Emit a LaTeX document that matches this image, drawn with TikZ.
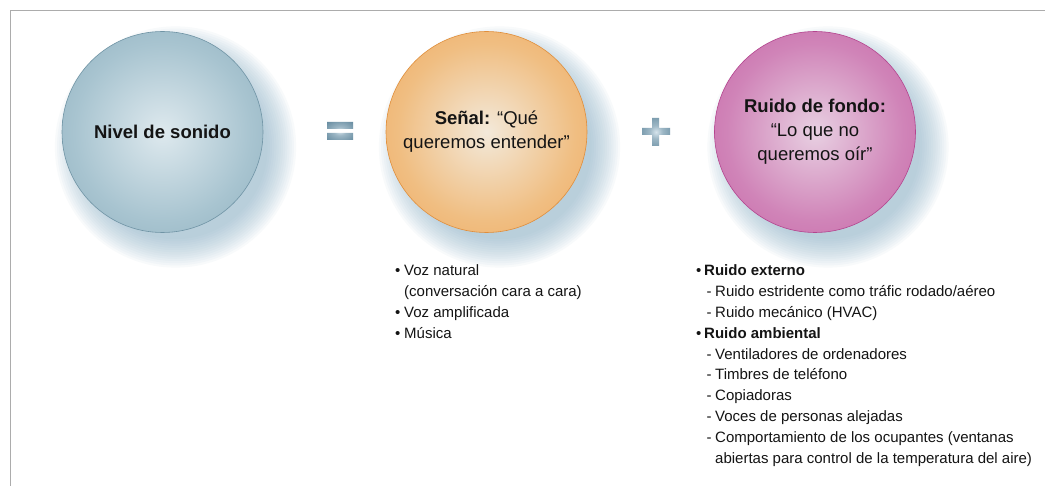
\documentclass[tikz,border=0pt]{standalone}
\usepackage{fontspec}
\setmainfont{Liberation Sans}
\definecolor{frameC}{RGB}{172,172,172}
\definecolor{glowC}{RGB}{140,178,200}
\definecolor{bIn}{RGB}{222,233,238}
\definecolor{bMid}{RGB}{168,196,208}
\definecolor{bOut}{RGB}{118,156,174}
\definecolor{oIn}{RGB}{243,233,218}
\definecolor{oMid}{RGB}{240,190,130}
\definecolor{oOut}{RGB}{236,150,62}
\definecolor{mIn}{RGB}{232,208,226}
\definecolor{mMid}{RGB}{208,132,184}
\definecolor{mOut}{RGB}{190,72,150}
\definecolor{sIn}{RGB}{214,228,236}
\definecolor{sOut}{RGB}{70,114,138}
\definecolor{txt}{RGB}{20,20,20}
\pgfdeclareradialshading{ballblue}{\pgfpointorigin}{color(0bp)=(bIn); color(22bp)=(bMid); color(50bp)=(bOut)}
\pgfdeclareradialshading{ballorange}{\pgfpointorigin}{color(0bp)=(oIn); color(22bp)=(oMid); color(50bp)=(oOut)}
\pgfdeclareradialshading{ballmagenta}{\pgfpointorigin}{color(0bp)=(mIn); color(22bp)=(mMid); color(50bp)=(mOut)}
\pgfdeclareradialshading{signshade}{\pgfpointorigin}{color(0bp)=(sIn); color(12bp)=(sIn!60!sOut); color(50bp)=(sOut)}
\tikzset{
  ball/.style={circle, minimum size=201pt, inner sep=0pt, align=center, text=txt,
    font=\fontsize{18.5}{24}\selectfont},
  item/.style={anchor=base west, inner sep=0pt, text=txt, font=\fontsize{15}{20}\selectfont},
  glowlayer/.style={fill=glowC, opacity=0.06}
}
\begin{document}
\begin{tikzpicture}[x=1pt,y=-1pt]
\useasboundingbox (0,0) rectangle (1045,486);
\fill[white] (0,0) rectangle (1045,486);
% frame
\draw[frameC, line width=1.5pt] (10.5,486) -- (10.5,10.5) -- (1045,10.5);
% glows
\foreach \cx/\cy in {162.5/132, 486.5/132, 815/132}{
  \foreach \k in {0,...,13}{
    \fill[glowlayer] (\cx+13,\cy+15) circle[radius={92pt+\k*2.2pt}];
  }
}
% circles
\node[ball, shading=ballblue, draw=bOut!95!black, line width=0.6pt] (c1) at (162.5,132) {\bfseries Nivel de sonido};
\node[ball, shading=ballorange, draw=oOut!95!black, line width=0.6pt] (c2) at (486.5,132) {{\bfseries Señal:} “Qué\\queremos entender”};
\node[ball, shading=ballmagenta, draw=mOut!95!black, line width=0.6pt] (c3) at (815,132) {{\bfseries Ruido de fondo:}\\“Lo que no\\queremos oír”};
% equals and plus
\path[shading=signshade] (327,122) rectangle (353,129) (327,133) rectangle (353,140);
\path[shading=signshade] (642,128) rectangle (670,135) (652,118) rectangle (659,146);
% left list
\node[item] (s1b) at (395,276) {•};
\node[item] (s1) at (404,276) {Voz natural};
\node[item] (s1c) at (404,296.8) {(conversación cara a cara)};
\node[item] (s2b) at (395,317.6) {•};
\node[item] (s2) at (404,317.6) {Voz amplificada};
\node[item] (s3b) at (395,338.4) {•};
\node[item] (s3) at (404,338.4) {Música};
% right list
\node[item] (r1b) at (696,276) {•};
\node[item] (r1) at (704,276) {\bfseries Ruido externo};
\node[item] (r1d1) at (706.5,296.8) {-};
\node[item] (r1t1) at (715,296.8) {Ruido estridente como tráfic rodado/aéreo};
\node[item] (r1d2) at (706.5,317.6) {-};
\node[item] (r1t2) at (715,317.6) {Ruido mecánico (HVAC)};
\node[item] (r2b) at (696,338.4) {•};
\node[item] (r2) at (704,338.4) {\bfseries Ruido ambiental};
\node[item] (r2d1) at (706.5,359.2) {-};
\node[item] (r2t1) at (715,359.2) {Ventiladores de ordenadores};
\node[item] (r2d2) at (706.5,380) {-};
\node[item] (r2t2) at (715,380) {Timbres de teléfono};
\node[item] (r2d3) at (706.5,400.8) {-};
\node[item] (r2t3) at (715,400.8) {Copiadoras};
\node[item] (r2d4) at (706.5,421.6) {-};
\node[item] (r2t4) at (715,421.6) {Voces de personas alejadas};
\node[item] (r2d5) at (706.5,442.4) {-};
\node[item] (r2t5) at (715,442.4) {Comportamiento de los ocupantes (ventanas};
\node[item] (r2t6) at (715,463.2) {abiertas para control de la temperatura del aire)};
\end{tikzpicture}
\end{document}
